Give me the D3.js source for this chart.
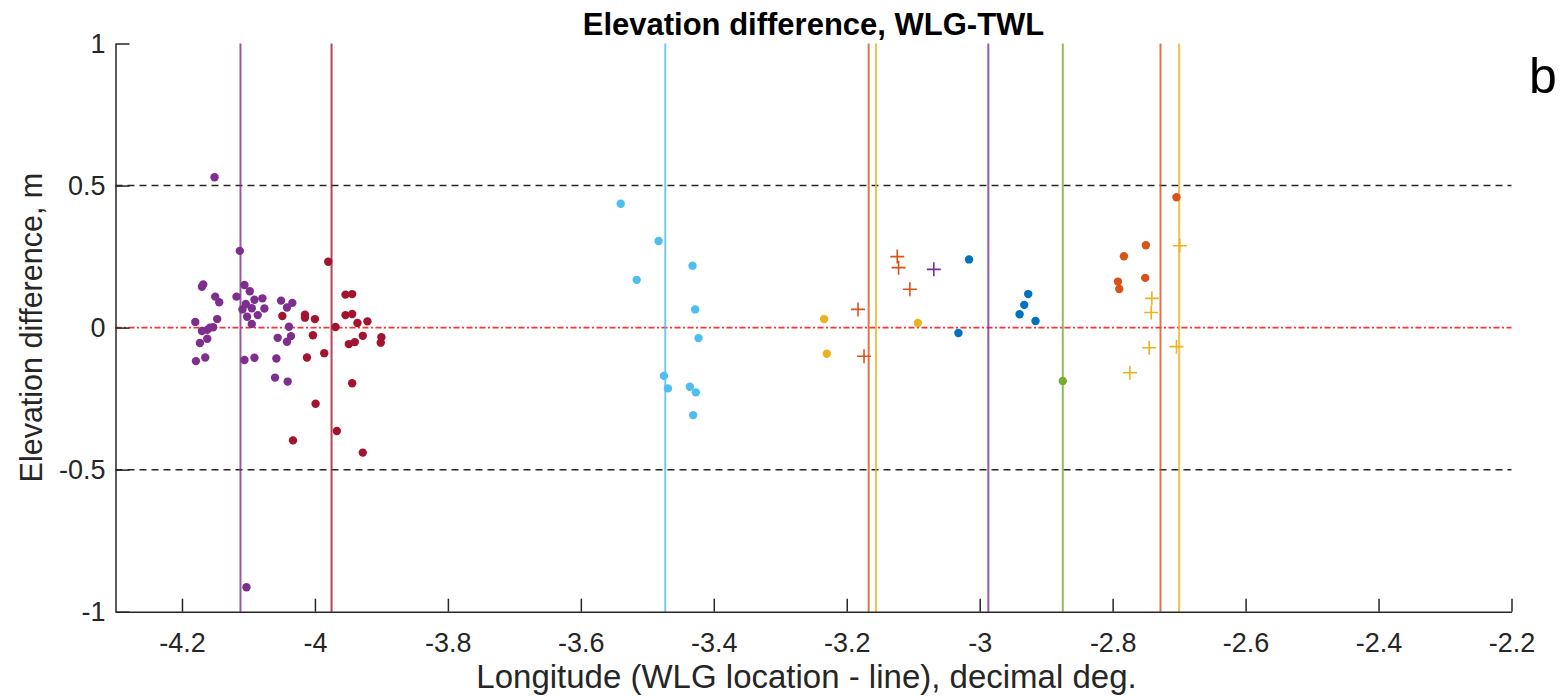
<!DOCTYPE html>
<html>
<head>
<meta charset="utf-8">
<script src="https://cdn.jsdelivr.net/npm/d3@7"></script>
<style>
  body { margin: 0; background: #fff; }
  svg { display: block; font-family: "Liberation Sans", Arial, Helvetica, sans-serif; }
  .axis path, .axis line { stroke: #262626; stroke-width: 1.5; }
  .axis text { fill: #262626; font-size: 27px; }
</style>
</head>
<body>
<svg id="chart" width="1562" height="696"></svg>
<script>
// longitude (deg) and elevation difference (m) pairs, per group
const purpleDots = [
  [-4.151, 0.529], [-4.113, 0.270], [-4.170, 0.144], [-4.168, 0.152], [-4.150, 0.109],
  [-4.144, 0.089], [-4.118, 0.109], [-4.106, 0.150], [-4.098, 0.128], [-4.091, 0.098],
  [-4.079, 0.103], [-4.076, 0.067], [-4.104, 0.083], [-4.109, 0.064], [-4.095, 0.068],
  [-4.102, 0.038], [-4.086, 0.044], [-4.095, 0.013], [-4.147, 0.030], [-4.180, 0.020],
  [-4.170, -0.012], [-4.162, -0.008], [-4.158, 0.000], [-4.153, 0.001], [-4.173, -0.054],
  [-4.162, -0.039], [-4.179, -0.118], [-4.165, -0.105], [-4.106, -0.114], [-4.091, -0.106],
  [-4.051, 0.095], [-4.042, 0.071], [-4.034, 0.087], [-4.039, 0.003], [-4.056, -0.036],
  [-4.036, -0.030], [-4.042, -0.050], [-4.058, -0.109], [-4.060, -0.176], [-4.041, -0.190],
  [-4.103, -0.914]
];
const redDots = [
  [-3.980, 0.232], [-4.049, 0.041], [-4.015, 0.045], [-4.015, 0.035], [-4.000, 0.030],
  [-4.003, -0.027], [-4.012, -0.105], [-3.986, -0.090], [-3.969, 0.002], [-3.954, 0.116],
  [-3.944, 0.118], [-3.954, 0.044], [-3.944, 0.048], [-3.936, 0.016], [-3.921, 0.022],
  [-3.949, -0.058], [-3.940, -0.051], [-3.928, -0.029], [-3.900, -0.034], [-3.901, -0.053],
  [-3.944, -0.196], [-3.999, -0.268], [-4.033, -0.397], [-3.967, -0.364], [-3.928, -0.440]
];
const cyanDots = [
  [-3.540, 0.436], [-3.483, 0.305], [-3.432, 0.218], [-3.516, 0.168], [-3.428, 0.064],
  [-3.423, -0.037], [-3.475, -0.170], [-3.469, -0.214], [-3.436, -0.208], [-3.427, -0.228],
  [-3.431, -0.308]
];
const yellowDots = [[-3.234, 0.030], [-3.230, -0.092], [-3.093, 0.016]];
const orangePlus = [[-3.183, 0.064], [-3.174, -0.101], [-3.124, 0.250], [-3.122, 0.211], [-3.105, 0.135]];
const purplePlus = [[-3.069, 0.205]];
const blueDots = [
  [-3.016, 0.240], [-3.032, -0.019], [-2.927, 0.118], [-2.933, 0.080], [-2.940, 0.047], [-2.916, 0.023]
];
const greenDots = [[-2.875, -0.188]];
const orangeDots = [
  [-2.704, 0.459], [-2.750, 0.290], [-2.783, 0.251], [-2.751, 0.175], [-2.792, 0.162], [-2.790, 0.136]
];
const yellowPlus = [
  [-2.699, 0.288], [-2.741, 0.103], [-2.742, 0.053], [-2.745, -0.071], [-2.704, -0.067], [-2.774, -0.159]
];

// line locations (longitude of each profile line)
const lineLons = [-4.112, -3.975, -3.473, -3.167, -3.156, -2.987, -2.875, -2.728, -2.700];
const lineKeys = ["purple", "red", "cyan", "orange", "yellow", "purple", "green", "orange", "yellow"];

const xTicks = [-4.2, -4, -3.8, -3.6, -3.4, -3.2, -3, -2.8, -2.6, -2.4, -2.2];
const yTicks = [-1, -0.5, 0, 0.5, 1];
const refLevels = [-0.5, 0.5];

const colors = {
  purple: "#7E2F8E",
  red: "#A2142F",
  cyan: "#4DBEEE",
  yellow: "#EDB120",
  orange: "#D95319",
  blue: "#0072BD",
  green: "#77AC30",
};

const series = [
  { data: purpleDots, key: "purple", marker: "dot" },
  { data: redDots, key: "red", marker: "dot" },
  { data: cyanDots, key: "cyan", marker: "dot" },
  { data: yellowDots, key: "yellow", marker: "dot" },
  { data: orangePlus, key: "orange", marker: "plus" },
  { data: purplePlus, key: "purple", marker: "plus" },
  { data: blueDots, key: "blue", marker: "dot" },
  { data: greenDots, key: "green", marker: "dot" },
  { data: orangeDots, key: "orange", marker: "dot" },
  { data: yellowPlus, key: "yellow", marker: "plus" },
];

const marginLeft = 115.5;
const marginRight = 50.5;
const marginTop = 43.5;
const marginBottom = 84.3;
const width = 1562;
const height = 696;

const x = d3.scaleLinear().domain([-4.3, -2.2]).range([marginLeft, width - marginRight]);
const y = d3.scaleLinear().domain([-1, 1]).range([height - marginBottom, marginTop]);

const fmt = (d) => String(+d.toFixed(1));

const svg = d3.select("#chart");

// reference lines
svg.append("g")
  .selectAll("line")
  .data(refLevels)
  .join("line")
  .attr("x1", x(-4.3))
  .attr("x2", x(-2.2))
  .attr("y1", (d) => y(d))
  .attr("y2", (d) => y(d))
  .attr("stroke", "#262626")
  .attr("stroke-width", 1.5)
  .attr("stroke-dasharray", "7,5");

svg.append("line")
  .attr("x1", x(-4.3))
  .attr("x2", x(-2.2))
  .attr("y1", y(0))
  .attr("y2", y(0))
  .attr("stroke", "#ff3030")
  .attr("stroke-width", 1.8)
  .attr("stroke-dasharray", "6,2.5,2,2.5");

// profile lines
svg.append("g")
  .selectAll("line")
  .data(lineLons)
  .join("line")
  .attr("x1", (d) => x(d))
  .attr("x2", (d) => x(d))
  .attr("y1", y(-1))
  .attr("y2", y(1))
  .attr("stroke", (d, i) => colors[lineKeys[i]])
  .attr("stroke-opacity", 0.8)
  .attr("stroke-width", 2);

// markers
const groups = svg.append("g")
  .selectAll("g")
  .data(series)
  .join("g")
  .attr("fill", (d) => colors[d.key])
  .attr("stroke", (d) => colors[d.key]);

groups.filter((d) => d.marker === "dot")
  .selectAll("circle")
  .data((d) => d.data)
  .join("circle")
  .attr("cx", (d) => x(d[0]))
  .attr("cy", (d) => y(d[1]))
  .attr("r", 4.2)
  .attr("stroke", "none");

groups.filter((d) => d.marker === "plus")
  .selectAll("path")
  .data((d) => d.data)
  .join("path")
  .attr("d", (d) => {
    const cx = x(d[0]), cy = y(d[1]), s = 7;
    return `M${cx - s},${cy}H${cx + s}M${cx},${cy - s}V${cy + s}`;
  })
  .attr("fill", "none")
  .attr("stroke-width", 1.6);

// axes
svg.append("g")
  .attr("class", "axis")
  .attr("transform", `translate(0,${y(-1)})`)
  .call(d3.axisBottom(x).tickValues(xTicks).tickFormat(fmt).tickSizeInner(-13).tickSizeOuter(0).tickPadding(21))
  .call((g) => g.selectAll("text").attr("dy", "0.71em"));

svg.append("g")
  .attr("class", "axis")
  .attr("transform", `translate(${x(-4.3)},0)`)
  .call(d3.axisLeft(y).tickValues(yTicks).tickFormat(fmt).tickSizeInner(-14).tickSizeOuter(0).tickPadding(10));

svg.selectAll(".axis .domain").attr("fill", "none");

// titles
svg.append("text")
  .attr("x", (x(-4.3) + x(-2.2)) / 2)
  .attr("y", 35)
  .attr("text-anchor", "middle")
  .attr("font-weight", "bold")
  .attr("font-size", 31)
  .text("Elevation difference, WLG-TWL");

svg.append("text")
  .attr("x", (x(-4.3) + x(-2.2)) / 2 - 7)
  .attr("y", 688)
  .attr("text-anchor", "middle")
  .attr("font-size", 33)
  .attr("fill", "#262626")
  .text("Longitude (WLG location - line), decimal deg.");

svg.append("text")
  .attr("transform", `translate(42,${(y(-1) + y(1)) / 2}) rotate(-90)`)
  .attr("text-anchor", "middle")
  .attr("font-size", 30.5)
  .attr("fill", "#262626")
  .text("Elevation difference, m");

svg.append("text")
  .attr("x", 1529)
  .attr("y", 93)
  .attr("font-size", 50)
  .attr("fill", "#000")
  .text("b");
</script>
</body>
</html>
